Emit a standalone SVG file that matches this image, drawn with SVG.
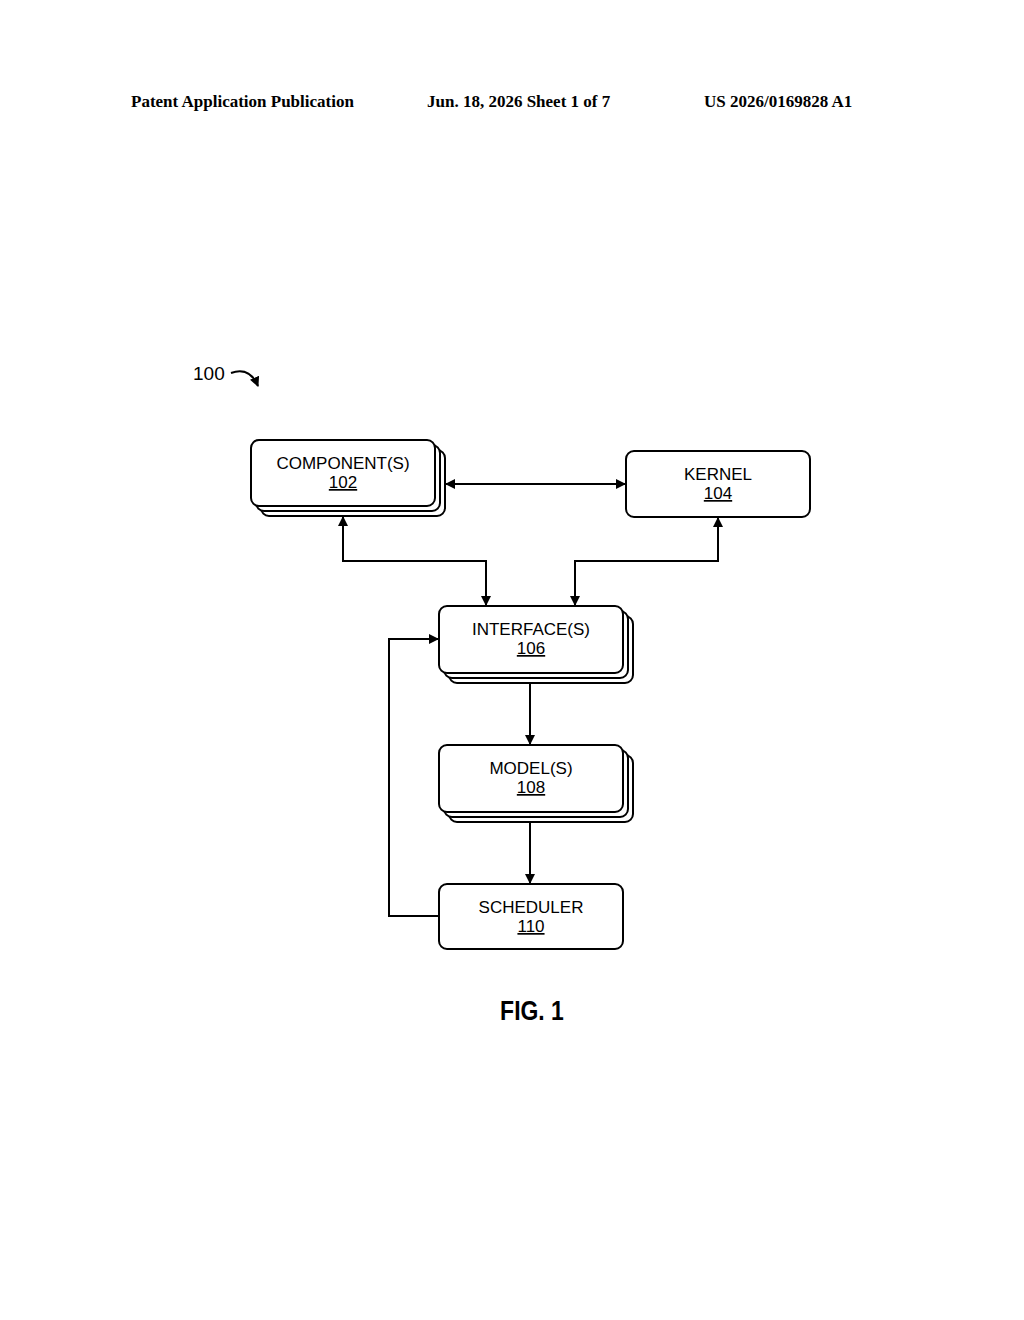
<svg xmlns="http://www.w3.org/2000/svg" width="1024" height="1320" viewBox="0 0 1024 1320">
<style>
.hdr{font-family:"Liberation Serif",serif;font-weight:bold;font-size:17px;fill:#000}
.t{font-family:"Liberation Sans",Arial,sans-serif;font-size:17px;fill:#000;text-anchor:middle}
.b{fill:#fff;stroke:#000;stroke-width:2}
.c{fill:none;stroke:#000;stroke-width:2}
</style>
<defs>
<marker id="ah" markerWidth="10" markerHeight="10" refX="9" refY="5" orient="auto-start-reverse" markerUnits="userSpaceOnUse">
<path d="M0,0 L10,5 L0,10 Z" fill="#000"/>
</marker>
</defs>
<rect width="1024" height="1320" fill="#fff"/>
<text class="hdr" x="131" y="107">Patent Application Publication</text>
<text class="hdr" x="427" y="107">Jun. 18, 2026  Sheet 1 of 7</text>
<text class="hdr" x="704" y="107">US 2026/0169828 A1</text>
<g id="ref100">
<text x="193" y="380" font-family="Liberation Sans,Arial,sans-serif" font-size="19">100</text>
<path class="c" d="M231,373 C242,369 252,372 258,386" marker-end="url(#ah)"/>
</g>
<g id="n102">
<rect class="b" x="261" y="450" width="184" height="66" rx="8"/>
<rect class="b" x="256" y="445" width="184" height="66" rx="8"/>
<rect class="b" x="251" y="440" width="184" height="66" rx="8"/>
<text class="t" x="343" y="469">COMPONENT(S)</text>
<text class="t" x="343" y="488" text-decoration="underline">102</text>
</g>
<g id="n104">
<rect class="b" x="626" y="451" width="184" height="66" rx="8"/>
<text class="t" x="718" y="480">KERNEL</text>
<text class="t" x="718" y="499" text-decoration="underline">104</text>
</g>
<g id="n106">
<rect class="b" x="449" y="616" width="184" height="67" rx="8"/>
<rect class="b" x="444" y="611" width="184" height="67" rx="8"/>
<rect class="b" x="439" y="606" width="184" height="67" rx="8"/>
<text class="t" x="531" y="635">INTERFACE(S)</text>
<text class="t" x="531" y="654" text-decoration="underline">106</text>
</g>
<g id="n108">
<rect class="b" x="449" y="755" width="184" height="67" rx="8"/>
<rect class="b" x="444" y="750" width="184" height="67" rx="8"/>
<rect class="b" x="439" y="745" width="184" height="67" rx="8"/>
<text class="t" x="531" y="774">MODEL(S)</text>
<text class="t" x="531" y="793" text-decoration="underline">108</text>
</g>
<g id="n110">
<rect class="b" x="439" y="884" width="184" height="65" rx="8"/>
<text class="t" x="531" y="913">SCHEDULER</text>
<text class="t" x="531" y="932" text-decoration="underline">110</text>
</g>
<g id="connectors">
<path class="c" d="M446,484 L625,484" marker-start="url(#ah)" marker-end="url(#ah)"/>
<path class="c" d="M486,605 L486,561 L343,561 L343,517" marker-start="url(#ah)" marker-end="url(#ah)"/>
<path class="c" d="M575,605 L575,561 L718,561 L718,518" marker-start="url(#ah)" marker-end="url(#ah)"/>
<path class="c" d="M530,683 L530,744" marker-end="url(#ah)"/>
<path class="c" d="M530,822 L530,883" marker-end="url(#ah)"/>
<path class="c" d="M439,916 L389,916 L389,639 L438,639" marker-end="url(#ah)"/>
</g>
<text x="532" y="1020" text-anchor="middle" font-family="Liberation Sans,Arial,sans-serif" font-weight="bold" font-size="27" transform="translate(532,0) scale(0.85,1) translate(-532,0)">FIG. 1</text>
</svg>
